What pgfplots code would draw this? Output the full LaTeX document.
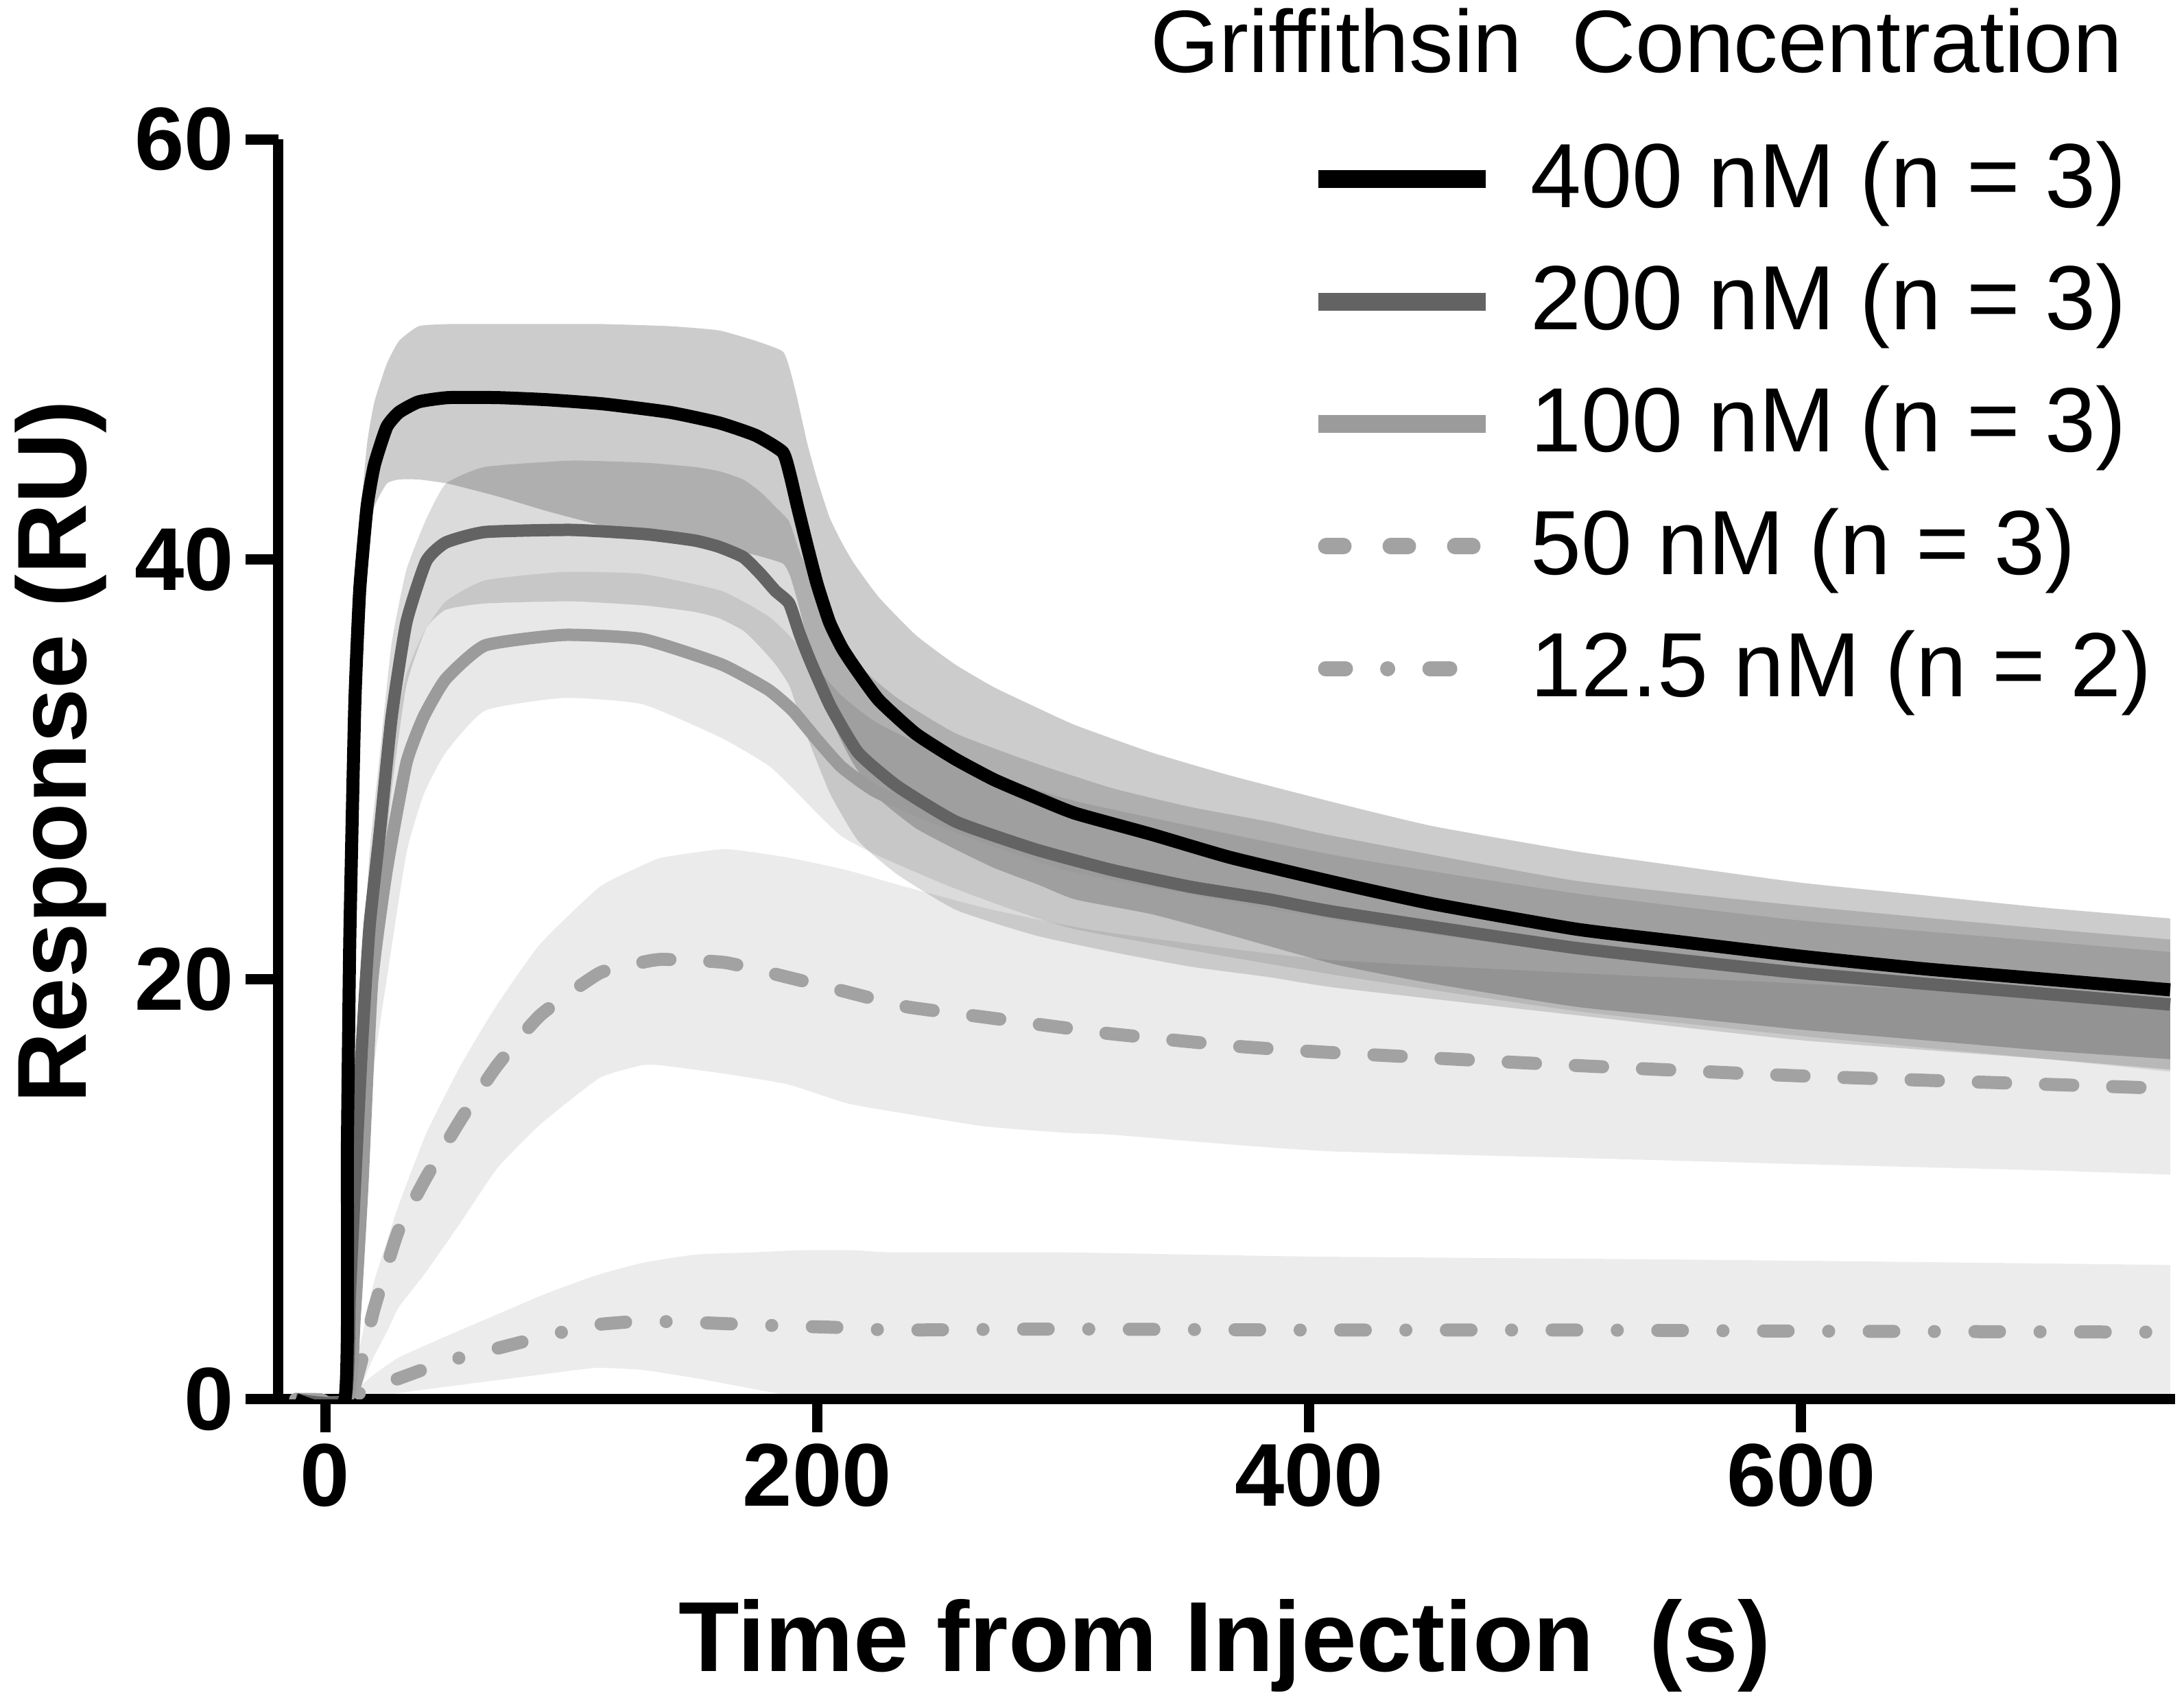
\documentclass[border=0pt]{standalone}
\usepackage{fontspec}
\setmainfont{Liberation Sans}[Ligatures=NoCommon]
\usepackage{pgfplots}
\usepackage{pgfplotstable}
\pgfplotsset{compat=1.18}
\usepgfplotslibrary{fillbetween}

\definecolor{c200}{HTML}{636363}
\definecolor{c100}{HTML}{9B9B9B}
\definecolor{c50}{HTML}{A2A2A2}

% 400 nM: x, mean, upper, lower
\pgfplotstableread{
x m u l
-12 0 0 0
8 0 0 0
9 12 13 11
10 22 24 20
12 33 36 30
14 38.5 41.5 35.5
17 42.5 45.5 40.5
20 44.5 47.5 42.5
25 46.3 49.3 43.6
30 47.0 50.4 43.8
38 47.5 51.1 43.8
50 47.7 51.2 43.6
70 47.7 51.2 43.0
90 47.6 51.2 42.3
113 47.4 51.2 41.6
140 47.0 51.1 41.0
160 46.5 50.9 40.6
175 45.9 50.4 40.2
186 45.1 49.9 39.8
189 44.0 49.0 39.2
192 42.5 47.6 38.0
196 40.6 45.5 36.2
200 38.8 43.8 34.5
205 37.0 42.0 32.6
210 35.8 40.8 31.3
215 34.9 39.8 30.2
225 33.3 38.2 28.6
240 31.7 36.4 27.2
256 30.5 35.0 26.2
272 29.5 33.9 25.3
290 28.6 32.9 24.5
305 27.9 32.1 23.8
336 26.9 30.8 23.1
368 25.8 29.7 22.1
411 24.6 28.4 20.7
450 23.6 27.3 19.8
508 22.4 26.1 18.7
550 21.8 25.4 18.2
600 21.1 24.6 17.6
650 20.5 24.0 17.1
700 20.0 23.4 16.6
750 19.5 22.9 16.2
}\dA

% 200 nM
\pgfplotstableread{
x m u l
-12 0 0 0
8 0 0 0
10 5 6 4
12 10 12 8
15 17 20 14
18 22.5 26 19
22 26.8 30.5 23
27 32.5 36 29
33 37.0 39.5 34
41 39.9 41.9 36.7
49 40.8 43.6 37.6
65 41.3 44.4 37.9
100 41.4 44.7 38.0
130 41.2 44.6 37.8
150 40.9 44.4 37.5
160 40.6 44.2 37.2
170 40.1 43.8 36.6
177 39.3 43.2 35.8
183 38.5 42.5 35.0
188.6 37.9 41.8 34.0
193 36.4 40.3 32.5
197.4 35.1 39.2 31.1
205.4 33.0 37.2 28.8
216.6 30.8 35.0 26.6
232.5 29.2 33.4 25.0
256.5 27.5 31.7 23.3
288.4 26.2 30.3 22.1
320 25.2 29.1 21.3
352 24.4 28.2 20.6
384 23.8 27.5 20.1
411 23.2 26.8 19.6
508 21.5 24.7 18.3
600 20.3 23.5 17.1
700 19.3 22.4 16.2
750 18.8 21.9 15.7
}\dB

% 100 nM
\pgfplotstableread{
x m u l
-12 0 0 0
9 0 0 0
12 4 6 2
15 10 14 6
19 19.8 24 15
25 25.2 30 20
33 30.3 34.5 26
40 32.5 36.5 28.8
49 34.3 38 30.8
65 35.9 39 32.8
97 36.4 39.4 33.4
129 36.2 39.3 33.1
161 35.0 38.5 31.5
180 33.8 37.3 30.2
190 32.8 36.2 29.1
200 31.4 34.8 27.9
210 30.1 33.5 26.8
224.5 28.9 32.2 25.9
256.5 27.3 30.4 24.3
304.4 25.4 28.5 22.4
411 23.1 25.9 20.2
508 21.5 24.1 18.5
600 20.3 22.8 17.3
700 19.3 21.8 16.2
750 18.8 21.3 15.6
}\dC

% 50 nM
\pgfplotstableread{
x m u l
-12 0 0 0
9 0 0 0
14 1.5 2.5 0.5
19.6 4.2 5.5 2.0
25 6.3 7.5 3.2
30 8.1 9.3 4.4
41.2 10.6 12.7 6.1
55.5 13.4 16.0 8.5
69.9 15.9 18.8 11.0
87.5 18.3 21.7 13.1
111.5 20.3 24.4 15.3
128.5 20.8 25.4 15.9
137 20.95 25.8 15.9
162.6 20.8 26.2 15.5
188 20.1 25.8 15.0
212 19.4 25.2 14.1
236 18.7 24.4 13.6
268 18.2 23.4 13.0
300 17.7 22.6 12.7
320 17.4 22.2 12.6
372 16.8 21.4 12.1
411 16.5 20.9 11.8
508 15.9 20.3 11.5
600 15.4 19.8 11.2
700 15.0 19.2 10.9
750 14.8 18.9 10.7
}\dD

% 12.5 nM
\pgfplotstableread{
x m u l
-12 0 0 0
9 0 0 0
14 0.3 0.6 0.0
20 0.6 1.2 0.1
30 1.0 2.0 0.3
49 1.8 3.0 0.6
69 2.4 4.0 0.9
89 3.0 5.0 1.2
110 3.55 5.9 1.5
129 3.72 6.5 1.4
151 3.66 6.9 1.0
174 3.55 7.0 0.5
193 3.48 7.1 0.1
215 3.4 7.1 0.0
231 3.3 7.0 0.0
300 3.35 7.0 0.0
400 3.3 6.8 0.0
508 3.3 6.7 0.0
600 3.25 6.6 0.0
750 3.2 6.4 0.0
}\dE

\begin{document}
\begin{tikzpicture}
\begin{axis}[
  name=ax,
  scale only axis,
  width=276.5pt, height=183.7pt,
  xmin=-19, xmax=752, ymin=0, ymax=60,
  axis lines=left,
  axis line style={line width=1.5pt, -},
  xtick={0,200,400,600},
  ytick={0,20,40,60},
  tick align=outside,
  major tick length=4.8pt,
  tick style={line width=1.5pt, black},
  /pgf/number format/assume math mode=true,
  ticklabel style={font=\bfseries\fontsize{13}{13}\selectfont},
  xticklabel style={inner sep=1.5pt},
  yticklabel style={inner sep=1.5pt},
  xlabel={Time from Injection\ \ (s)},
  ylabel={Response (RU)},
  xlabel style={at={(axis description cs:0.499,-0.2156)}, anchor=base, font=\bfseries\fontsize{14.5}{17}\selectfont},
  ylabel style={at={(axis description cs:-0.1013,0.514)}, anchor=base, font=\bfseries\fontsize{14.3}{17}\selectfont},
  clip mode=individual,
  reverse legend,
  legend cell align=left,
  legend style={at={(axis description cs:0.5434,0.9986)}, anchor=north west,
    draw=none, fill=none, inner sep=0pt, outer sep=0pt,
    row sep=6.7pt,
    font=\fontsize{13.3}{16}\selectfont,
    nodes={inner sep=0pt},
    /tikz/every odd column/.append style={column sep=5.3pt}},
  every axis plot/.append style={smooth, tension=0.3},
]
% ---- SD bands ----
\addplot[draw=none, name path=uE, forget plot] table[x=x,y=u]{\dE};
\addplot[draw=none, name path=lE, forget plot] table[x=x,y=l]{\dE};
\addplot[fill=black, fill opacity=0.075, draw=none, forget plot] fill between[of=uE and lE];
\addplot[draw=none, name path=uD, forget plot] table[x=x,y=u]{\dD};
\addplot[draw=none, name path=lD, forget plot] table[x=x,y=l]{\dD};
\addplot[fill=black, fill opacity=0.08, draw=none, forget plot] fill between[of=uD and lD];
\addplot[draw=none, name path=uC, forget plot] table[x=x,y=u]{\dC};
\addplot[draw=none, name path=lC, forget plot] table[x=x,y=l]{\dC};
\addplot[fill=black, fill opacity=0.09, draw=none, forget plot] fill between[of=uC and lC];
\addplot[draw=none, name path=uB, forget plot] table[x=x,y=u]{\dB};
\addplot[draw=none, name path=lB, forget plot] table[x=x,y=l]{\dB};
\addplot[fill=black, fill opacity=0.14, draw=none, forget plot] fill between[of=uB and lB];
\addplot[draw=none, name path=uA, forget plot] table[x=x,y=u]{\dA};
\addplot[draw=none, name path=lA, forget plot] table[x=x,y=l]{\dA};
\addplot[fill=black, fill opacity=0.2, draw=none, forget plot] fill between[of=uA and lA];
% ---- mean curves ----
\addplot[c50, line width=1.9pt, line cap=round, dash pattern=on 3.6pt off 5.9pt on 0.01pt off 5.9pt,
  legend image code/.code={\draw[c50, line width=2.2pt, line cap=round, dash pattern=on 2.9pt off 6.15pt on 0.01pt off 6.15pt] (1.1pt,0pt) -- (19.7pt,0pt);}]
  table[x=x,y=m]{\dE};
\addlegendentry{12.5 nM (n = 2)}
\addplot[c50, line width=1.9pt, line cap=round, dash pattern=on 4.0pt off 5.8pt,
  legend image code/.code={\draw[c50, line width=2.4pt, line cap=round, dash pattern=on 2.5pt off 6.9pt] (1.2pt,0pt) -- (23.2pt,0pt);}]
  table[x=x,y=m]{\dD};
\addlegendentry{50 nM (n = 3)}
\addplot[c100, line width=1.8pt,
  legend image code/.code={\draw[c100, line width=2.6pt] (0pt,0pt) -- (24.4pt,0pt);}]
  table[x=x,y=m]{\dC};
\addlegendentry{100 nM (n = 3)}
\addplot[c200, line width=1.8pt,
  legend image code/.code={\draw[c200, line width=2.6pt] (0pt,0pt) -- (24.4pt,0pt);}]
  table[x=x,y=m]{\dB};
\addlegendentry{200 nM (n = 3)}
\addplot[black, line width=1.9pt,
  legend image code/.code={\draw[black, line width=2.6pt] (0pt,0pt) -- (24.4pt,0pt);}]
  table[x=x,y=m]{\dA};
\addlegendentry{400 nM (n = 3)}
\node[anchor=base east, font=\fontsize{12.9}{15}\selectfont, inner sep=0pt] at (axis description cs:0.973,1.053) {Griffithsin\ \ Concentration};
\end{axis}
\pgfresetboundingbox
\path[use as bounding box] ([xshift=-40.6pt,yshift=-44.7pt]ax.south west) rectangle ++(318.4pt,248.7pt);
\end{tikzpicture}
\end{document}
